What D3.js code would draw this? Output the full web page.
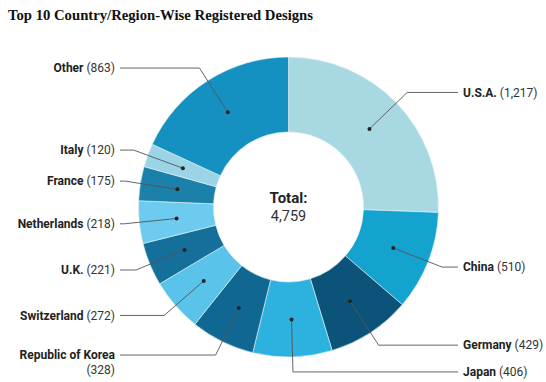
<!DOCTYPE html>
<html>
<head>
<meta charset="utf-8">
<script src="https://cdn.jsdelivr.net/npm/d3@7"></script>
<style>
  body { margin: 0; background: #fff; }
  svg { display: block; }
</style>
</head>
<body>
<div id="wrapper"></div>
<script>
// Data
const countries = ["U.S.A.", "China", "Germany", "Japan", "Republic of Korea",
  "Switzerland", "U.K.", "Netherlands", "France", "Italy", "Other"];
const designs = [1217, 510, 429, 406, 328, 272, 221, 218, 175, 120, 863];
const sliceColors = ["#a8d9e3", "#14a2cf", "#0b5379", "#2db1de", "#106892",
  "#59c3e9", "#14709a", "#6ccbef", "#1b80aa", "#9ad4e6", "#1491c1"];

const dataset = countries.map((c, i) => ({ name: c, value: designs[i], color: sliceColors[i] }));
const total = d3.sum(designs);

// Dimensions
const dimensions = {
  width: 546,
  height: 382,
  cx: 288.5,
  cy: 207,
  outer: 150,
  inner: 75,
  elbow: 165,
};

const wrapper = d3.select("#wrapper")
  .append("svg")
    .attr("width", dimensions.width)
    .attr("height", dimensions.height);

// Title
wrapper.append("text")
  .attr("x", 8)
  .attr("y", 20)
  .style("font-family", "'Liberation Serif', serif")
  .style("font-weight", "bold")
  .style("font-size", "14.5px")
  .attr("fill", "#111")
  .attr("textLength", 305)
  .attr("lengthAdjust", "spacingAndGlyphs")
  .text("Top 10 Country/Region-Wise Registered Designs");

const bounds = wrapper.append("g")
  .attr("transform", `translate(${dimensions.cx},${dimensions.cy})`);

// Pie
const pie = d3.pie().sort(null).value(d => d.value);
const arcs = pie(dataset);

const arc = d3.arc()
  .innerRadius(dimensions.inner)
  .outerRadius(dimensions.outer);

const elbowArc = d3.arc()
  .innerRadius(dimensions.elbow)
  .outerRadius(dimensions.elbow);

bounds.selectAll("path.slice")
  .data(arcs)
  .join("path")
    .attr("class", "slice")
    .attr("d", arc)
    .attr("fill", d => d.data.color)
    .attr("stroke", "#e8f4f8")
    .attr("stroke-width", 0.6);

// Leader lines
const midAngle = d => (d.startAngle + d.endAngle) / 2;
const isRight = d => midAngle(d) < Math.PI;
const lineEndRight = 458 - dimensions.cx;
const lineEndLeft = 120 - dimensions.cx;

bounds.selectAll("polyline")
  .data(arcs)
  .join("polyline")
    .attr("points", d => {
      const c = arc.centroid(d);
      const e = elbowArc.centroid(d);
      const x = isRight(d) ? lineEndRight : lineEndLeft;
      return [c, e, [x, e[1]]].map(p => p.join(",")).join(" ");
    })
    .attr("fill", "none")
    .attr("stroke", "#555")
    .attr("stroke-width", 0.9);

bounds.selectAll("circle")
  .data(arcs)
  .join("circle")
    .attr("cx", d => arc.centroid(d)[0])
    .attr("cy", d => arc.centroid(d)[1])
    .attr("r", 2)
    .attr("fill", "#222");

// Labels
const fmt = d3.format(",");
const labels = bounds.selectAll("text.label")
  .data(arcs)
  .join("text")
    .attr("class", "label")
    .attr("text-anchor", d => isRight(d) ? "start" : "end")
    .attr("transform", d => {
      const e = elbowArc.centroid(d);
      const x = isRight(d) ? lineEndRight + 5 : lineEndLeft - 5;
      return `translate(${x},${e[1]})`;
    })
    .style("font-family", "Roboto, sans-serif")
    .style("font-size", "12px")
    .attr("fill", "#222");

labels.each(function(d) {
  const t = d3.select(this);
  const wrap = d.data.name.length > 12;
  t.append("tspan")
    .attr("x", 0)
    .attr("dy", "0.35em")
    .style("font-weight", "bold")
    .text(d.data.name);
  t.append("tspan")
    .attr("x", wrap ? 0 : null)
    .attr("dy", wrap ? "1.2em" : null)
    .attr("fill", "#333")
    .text(`${wrap ? "" : " "}(${fmt(d.data.value)})`);
});

// Center total
bounds.append("text")
  .attr("text-anchor", "middle")
  .attr("y", -4)
  .style("font-family", "Roboto, sans-serif")
  .style("font-size", "15px")
  .style("font-weight", "bold")
  .attr("fill", "#222")
  .text("Total:");

bounds.append("text")
  .attr("text-anchor", "middle")
  .attr("y", 14)
  .style("font-family", "Roboto, sans-serif")
  .style("font-size", "14.5px")
  .attr("fill", "#333")
  .text(fmt(total));
</script>
</body>
</html>
